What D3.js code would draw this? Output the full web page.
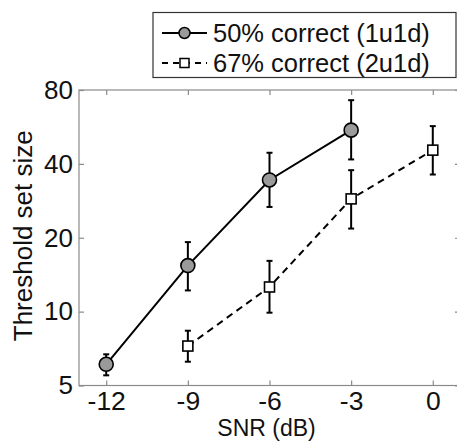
<!DOCTYPE html>
<html>
<head>
<meta charset="utf-8">
<script src="https://cdn.jsdelivr.net/npm/d3@7"></script>
<style>
  html, body { margin: 0; padding: 0; background: #fff; }
  svg { display: block; }
  text { font-family: "Liberation Sans", Arial, sans-serif; fill: #111; }
</style>
</head>
<body>
<script>
// SNR conditions (dB)
const snrA = [-12, -9, -6, -3];
const snrB = [-9, -6, -3, 0];

// 50% correct (1u1d): mean threshold set size with error-bar limits
const meanA = [6.1, 15.4, 34.4, 54.9];
const lowA  = [5.5, 12.2, 26.7, 41.7];
const highA = [6.7, 19.2, 44.4, 72.7];

// 67% correct (2u1d)
const meanB = [7.24, 12.6, 28.8, 45.5];
const lowB  = [6.25, 9.9, 21.8, 36.2];
const highB = [8.36, 16.1, 37.7, 57.0];

const xTicks = [-12, -9, -6, -3, 0];
const yTicks = [5, 10, 20, 40, 80];
const legendLabels = ["50% correct (1u1d)", "67% correct (2u1d)"];

const W = 457, H = 441;
const m = { left: 79, top: 90, right: 460, bottom: 385.5 };

const svg = d3.select("body").append("svg").attr("width", W).attr("height", H);

const x = d3.scaleLinear().domain([-13, 1]).range([m.left, m.right]);
const y = d3.scaleLog().domain([5, 80]).range([m.bottom, m.top]);

const axisColor = "#8a8a8a";

// frame
svg.append("rect")
  .attr("x", m.left).attr("y", m.top)
  .attr("width", m.right - m.left).attr("height", m.bottom - m.top)
  .attr("fill", "none").attr("stroke", axisColor).attr("stroke-width", 1.2);

// axes with inward ticks
function styleAxis(size) {
  return g => {
    g.select(".domain").remove();
    g.selectAll(".tick line").attr("stroke", axisColor).attr("stroke-width", 1.2);
    g.selectAll(".tick text").style("font-size", size + "px").attr("fill", "#111");
  };
}

svg.append("g").attr("transform", `translate(0,${m.bottom})`)
  .call(d3.axisBottom(x).tickValues(xTicks).tickSizeInner(-5).tickSizeOuter(0).tickPadding(5.5)
        .tickFormat(d => String(d).replace("−", "-")))
  .call(styleAxis(26.5));
svg.append("g").attr("transform", `translate(0,${m.top})`)
  .call(d3.axisTop(x).tickValues(xTicks).tickSizeInner(-5).tickSizeOuter(0).tickFormat(""))
  .call(styleAxis(26.5));
svg.append("g").attr("transform", `translate(${m.left},0)`)
  .call(d3.axisLeft(y).tickValues(yTicks).tickSizeInner(-5).tickSizeOuter(0).tickPadding(6)
        .tickFormat(d3.format("d")))
  .call(styleAxis(26));
svg.append("g").attr("transform", `translate(${m.right},0)`)
  .call(d3.axisRight(y).tickValues(yTicks).tickSizeInner(-5).tickSizeOuter(0).tickFormat(""))
  .call(styleAxis(26));

// axis titles
svg.append("text")
  .attr("x", 266.5).attr("y", 436)
  .attr("text-anchor", "middle").style("font-size", "23px")
  .text("SNR (dB)");
svg.append("text")
  .attr("transform", `translate(32,${(m.top + m.bottom) / 2 - 2}) rotate(-90)`)
  .attr("text-anchor", "middle").style("font-size", "26px")
  .text("Threshold set size");

function drawSeries(xs, mean, lo, hi, dashed, marker) {
  const pts = xs.map((v, i) => ({ x: v, m: mean[i], lo: lo[i], hi: hi[i] }));
  const g = svg.append("g");
  g.append("path")
    .datum(pts)
    .attr("d", d3.line().x(d => x(d.x)).y(d => y(d.m)))
    .attr("fill", "none").attr("stroke", "#000").attr("stroke-width", 2)
    .attr("stroke-dasharray", dashed ? "7,5" : null);
  const eb = g.selectAll(".eb").data(pts).enter().append("g");
  eb.append("line")
    .attr("x1", d => x(d.x)).attr("x2", d => x(d.x))
    .attr("y1", d => y(d.lo)).attr("y2", d => y(d.hi))
    .attr("stroke", "#000").attr("stroke-width", 2);
  [d => y(d.lo), d => y(d.hi)].forEach(fy => {
    eb.append("line")
      .attr("x1", d => x(d.x) - 3).attr("x2", d => x(d.x) + 3)
      .attr("y1", fy).attr("y2", fy)
      .attr("stroke", "#000").attr("stroke-width", 2);
  });
  if (marker === "circle") {
    g.selectAll(".mk").data(pts).enter().append("circle")
      .attr("cx", d => x(d.x)).attr("cy", d => y(d.m)).attr("r", 7)
      .attr("fill", "#9a9a9a").attr("stroke", "#000").attr("stroke-width", 1.6);
  } else {
    g.selectAll(".mk").data(pts).enter().append("rect")
      .attr("x", d => x(d.x) - 5).attr("y", d => y(d.m) - 5)
      .attr("width", 10).attr("height", 10)
      .attr("fill", "#fff").attr("stroke", "#000").attr("stroke-width", 1.6);
  }
}

drawSeries(snrA, meanA, lowA, highA, false, "circle");
drawSeries(snrB, meanB, lowB, highB, true, "square");

// legend
const lg = svg.append("g");
lg.append("rect")
  .attr("x", 153).attr("y", 12.5).attr("width", 303).attr("height", 65)
  .attr("fill", "#fff").attr("stroke", "#333").attr("stroke-width", 1.2);
const rows = [
  { y: 33, dashed: false, marker: "circle" },
  { y: 63, dashed: true, marker: "square" }
];
rows.forEach((r, i) => {
  lg.append("line")
    .attr("x1", 162).attr("x2", 207).attr("y1", r.y).attr("y2", r.y)
    .attr("stroke", "#000").attr("stroke-width", 2)
    .attr("stroke-dasharray", r.dashed ? "6,5" : null);
  if (r.marker === "circle") {
    lg.append("circle").attr("cx", 184.5).attr("cy", r.y).attr("r", 5.5)
      .attr("fill", "#9a9a9a").attr("stroke", "#000").attr("stroke-width", 1.5);
  } else {
    lg.append("rect").attr("x", 180).attr("y", r.y - 4.5).attr("width", 9).attr("height", 9)
      .attr("fill", "#fff").attr("stroke", "#000").attr("stroke-width", 1.5);
  }
  lg.append("text")
    .attr("x", 213).attr("y", r.y + 9)
    .style("font-size", "25.5px")
    .text(legendLabels[i]);
});
</script>
</body>
</html>
